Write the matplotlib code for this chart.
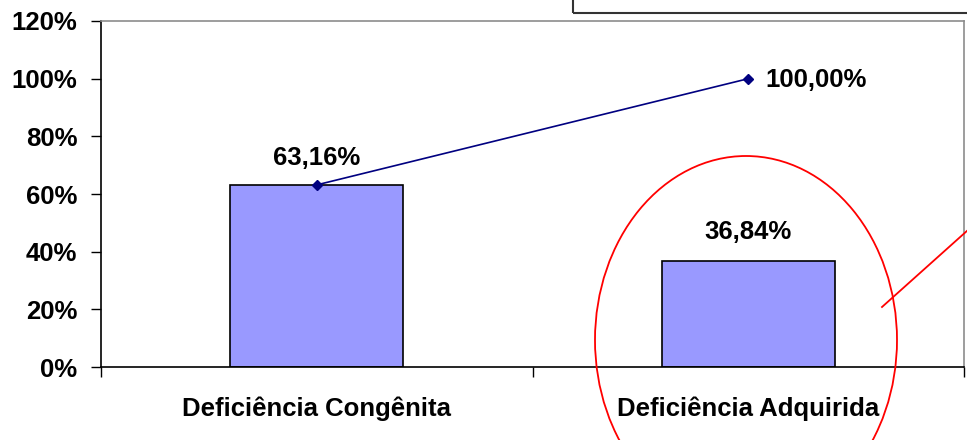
import matplotlib
matplotlib.use("Agg")
import matplotlib.pyplot as plt
from matplotlib.patches import Ellipse, Rectangle
from matplotlib.lines import Line2D

categories = ["Deficiência Congênita", "Deficiência Adquirida"]
bar_values = [63.16, 36.84]
cumulative = [63.16, 100.00]
y_ticks = [0, 20, 40, 60, 80, 100, 120]

plt.rcParams['font.family'] = ['Liberation Sans', 'DejaVu Sans']
plt.rcParams['font.weight'] = 'bold'

FS = 18.5
W, H = 967, 440
fig = plt.figure(figsize=(W / 100, H / 100), dpi=100)
ax = fig.add_axes([101 / W, (H - 367) / H, (964 - 101) / W, (367 - 21) / H])

x = list(range(len(categories)))
ax.bar(x, bar_values, width=0.40, color="#9999FF", edgecolor="black", linewidth=1.2, zorder=2)
ax.plot(x, cumulative, color="#000080", linewidth=1.2, marker="D", markersize=5.5, zorder=3)

def fmt(v):
    return f"{v:.2f}".replace(".", ",") + "%"

for xi, v in zip(x, bar_values):
    if abs(v - cumulative[xi]) < 1e-9:
        continue
    ax.annotate(fmt(v), (xi, v), xytext=(0, 12), textcoords="offset points",
                ha="center", va="bottom", fontsize=FS, fontweight="bold")
ax.annotate(fmt(cumulative[0]), (x[0], cumulative[0]), xytext=(0, 11), textcoords="offset points",
            ha="center", va="bottom", fontsize=FS, fontweight="bold")
ax.annotate(fmt(cumulative[1]), (x[1], cumulative[1]), xytext=(12, -1), textcoords="offset points",
            ha="left", va="center", fontsize=FS, fontweight="bold")

ax.set_xlim(-0.5, len(categories) - 0.5)
ax.set_ylim(0, 120)
ax.set_yticks(y_ticks)
ax.set_yticklabels([f"{t}%" for t in y_ticks], fontsize=FS, fontweight="bold")
ax.tick_params(axis="y", direction="out", length=7, width=1, pad=10)

ax.set_xticks(x)
ax.set_xticklabels(categories, fontsize=FS, fontweight="bold")
ax.tick_params(axis="x", which="major", length=0, pad=21)
ax.set_xticks([-0.5, 0.5, 1.5], minor=True)
ax.tick_params(axis="x", which="minor", direction="out", length=7, width=1)

for s in ["top", "right"]:
    ax.spines[s].set_color("#8c8c8c")
    ax.spines[s].set_linewidth(1.2)
for s in ["left", "bottom"]:
    ax.spines[s].set_color("black")
    ax.spines[s].set_linewidth(1.2)

# legend-like box at top right (partially outside)
fig.patches.append(Rectangle((573 / W, (H - 13) / H), 420 / W, 40 / H, transform=fig.transFigure,
                             fill=False, edgecolor="#333333", linewidth=1.5))
# red ellipse annotation
fig.patches.append(Ellipse((746 / W, (H - 340) / H), 302 / W, 368 / H, transform=fig.transFigure,
                           fill=False, edgecolor="red", linewidth=1.3, zorder=10))
fig.lines.append(Line2D([882 / W, 968 / W], [(H - 307) / H, (H - 230) / H], transform=fig.transFigure,
                        color="red", linewidth=1.3, zorder=10))

fig.savefig("out.png", dpi=100)
